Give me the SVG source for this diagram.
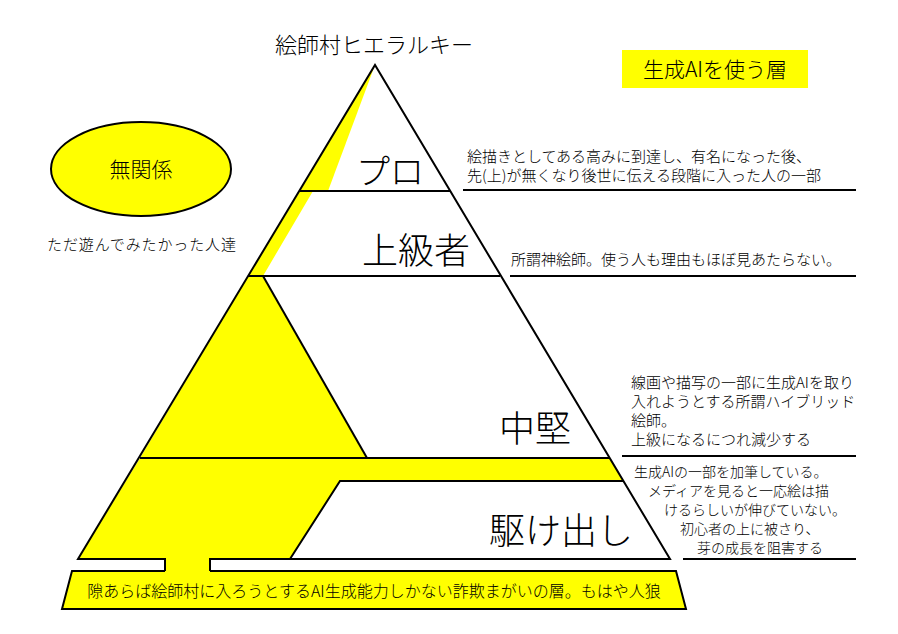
<svg xmlns="http://www.w3.org/2000/svg" width="898" height="634" viewBox="0 0 898 634">
<style>
text{font-family:"Noto Sans CJK JP","Noto Sans",sans-serif;fill:#000;font-weight:300}
.s{font-size:15px}
.t{font-size:14px}
.b{font-size:36px}
.ln{stroke:#000;stroke-width:2;fill:none}
.y{fill:#ff0;stroke:none}
</style>
<rect width="898" height="634" fill="#fff"/>
<g id="yellow">
<polygon class="y" points="375,65 328,191 300,191"/>
<polygon class="y" points="300,191 313,191 263,276 367,458 140,458 248,276"/>
<polygon class="y" points="140,458 610,458 623,481 340,481 290,559 78,559"/>
<rect class="y" x="165" y="557" width="45" height="16"/>
<polygon points="72,571 676,571 686,609 62,609" fill="#ff0"/>
</g>
<g id="pyramid">
<polyline class="ln" points="165,571 165,559 78,559 375,65 670,559 210,559 210,571"/>
<line class="ln" x1="300" y1="191" x2="450" y2="191"/>
<line class="ln" x1="248" y1="276" x2="500" y2="276"/>
<line class="ln" x1="263" y1="276" x2="367" y2="458"/>
<line class="ln" x1="140" y1="458" x2="610" y2="458"/>
<polyline class="ln" points="623,481 340,481 290,559"/>
</g>
<g id="base">
<polyline class="ln" points="165,571 72,571 62,609 686,609 676,571 210,571"/>
<text x="374" y="597" text-anchor="middle" font-size="16">隙あらば絵師村に入ろうとするAI生成能力しかない詐欺まがいの層。もはや人狼</text>
</g>
<g id="labels">
<text x="374" y="53" text-anchor="middle" font-size="22">絵師村ヒエラルキー</text>
<text x="390" y="184" text-anchor="middle" font-size="34">プロ</text>
<text x="416" y="264" text-anchor="middle" class="b">上級者</text>
<text x="535" y="442" text-anchor="middle" class="b">中堅</text>
<text x="561" y="544" text-anchor="middle" class="b">駆け出し</text>
</g>
<g id="legend">
<rect x="622" y="50" width="186" height="38" fill="#ff0"/>
<text x="715" y="77" text-anchor="middle" font-size="21">生成AIを使う層</text>
</g>
<g id="unrelated">
<ellipse cx="141" cy="169" rx="90" ry="47" fill="#ff0" stroke="#000" stroke-width="2"/>
<text x="141" y="177" text-anchor="middle" font-size="21">無関係</text>
<text x="47" y="250" class="s" textLength="189">ただ遊んでみたかった人達</text>
</g>
<g id="notes">
<text x="467" y="162" class="s">絵描きとしてある高みに到達し、有名になった後、</text>
<text x="467" y="181" class="s">先(上)が無くなり後世に伝える段階に入った人の一部</text>
<line class="ln" x1="463" y1="190" x2="856" y2="190"/>
<text x="511" y="265" class="s">所謂神絵師。使う人も理由もほぼ見あたらない。</text>
<line class="ln" x1="510" y1="276" x2="856" y2="276"/>
<text x="631" y="388" class="s">線画や描写の一部に生成AIを取り</text>
<text x="631" y="407" class="s">入れようとする所謂ハイブリッド</text>
<text x="631" y="426" class="s">絵師。</text>
<text x="631" y="445" class="s">上級になるにつれ減少する</text>
<line class="ln" x1="622" y1="456" x2="856" y2="456"/>
<text x="634" y="477" class="t">生成AIの一部を加筆している。</text>
<text x="648" y="496" class="t">メディアを見ると一応絵は描</text>
<text x="664" y="515" class="t">けるらしいが伸びていない。</text>
<text x="680" y="534" class="t">初心者の上に被さり、</text>
<text x="697" y="553" class="t">芽の成長を阻害する</text>
<line class="ln" x1="683" y1="559" x2="856" y2="559"/>
</g>
</svg>
